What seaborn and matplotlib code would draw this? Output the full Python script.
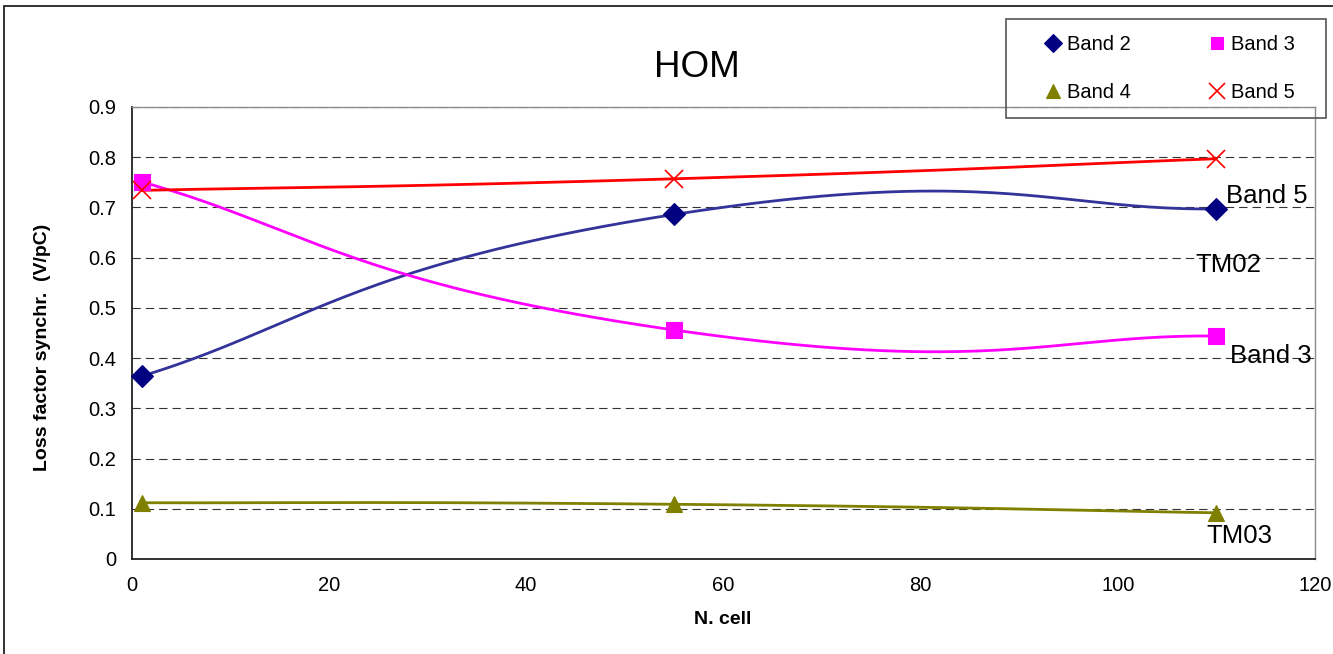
import numpy as np
import pandas as pd
import matplotlib
matplotlib.use("Agg")
import matplotlib.pyplot as plt
import seaborn as sns
from matplotlib.lines import Line2D
from matplotlib.patches import Rectangle
from matplotlib.ticker import MultipleLocator, FuncFormatter

# Loss factor per band versus number of cells
n_cell = [1, 55, 110]
band2 = [0.364, 0.686, 0.697]
band3 = [0.751, 0.456, 0.444]
band4 = [0.112, 0.109, 0.092]
band5 = [0.734, 0.757, 0.797]
series_names = ["Band 2", "Band 3", "Band 4", "Band 5"]
series_values = [band2, band3, band4, band5]

# mode annotations at the right end of the curves: (text, x, baseline y)
mode_labels = ["Band 5", "TM02", "Band 3", "TM03"]
mode_label_x = [111.0, 107.9, 111.4, 109.0]
mode_label_y = [0.709, 0.572, 0.390, 0.031]

line_colors = ["#33339a", "#ff00ff", "#808000", "#ff0000"]
marker_colors = ["#000080", "#ff00ff", "#808000", "#ff0000"]
markers = ["D", "s", "^", "x"]
marker_sizes = [11, 11, 12, 12.5]
legend_marker_sizes = [9.5, 9, 10.5, 11]


def smooth_curve(xs, ys, n=80, k=0.3):
    """Cubic Bezier smoothing through the points (spreadsheet-style smoothed line)."""
    pts = np.column_stack([xs, ys]).astype(float)
    out = []
    for i in range(len(pts) - 1):
        p0 = pts[i - 1] if i > 0 else pts[i]
        p1, p2 = pts[i], pts[i + 1]
        p3 = pts[i + 2] if i + 2 < len(pts) else pts[i + 1]
        c1 = p1 + (p2 - p0) * k
        c2 = p2 - (p3 - p1) * k
        t = np.linspace(0, 1, n)[:, None]
        seg = ((1 - t) ** 3) * p1 + 3 * ((1 - t) ** 2) * t * c1 \
            + 3 * (1 - t) * t ** 2 * c2 + t ** 3 * p2
        out.append(seg if i == 0 else seg[1:])
    return np.vstack(out)


sns.set_style("white")
plt.rcParams["font.family"] = ["Liberation Sans", "DejaVu Sans"]
plt.rcParams["text.color"] = "black"
plt.rcParams["axes.labelcolor"] = "black"
plt.rcParams["xtick.color"] = "black"
plt.rcParams["ytick.color"] = "black"

W, H = 1333, 654
fig = plt.figure(figsize=(W / 100, H / 100), dpi=100)
ax_left, ax_right, ax_top, ax_bottom = 131.7, 1315.0, 107.0, 559.0
ax = fig.add_axes([ax_left / W, 1 - ax_bottom / H,
                   (ax_right - ax_left) / W, (ax_bottom - ax_top) / H])

# smoothed curves
frames = []
for name, vals in zip(series_names, series_values):
    c = smooth_curve(n_cell, vals)
    frames.append(pd.DataFrame({"N. cell": c[:, 0], "loss": c[:, 1], "band": name}))
curves = pd.concat(frames, ignore_index=True)
sns.lineplot(data=curves, x="N. cell", y="loss", hue="band", hue_order=series_names,
             palette=dict(zip(series_names, line_colors)), sort=False,
             estimator=None, linewidth=2.0, legend=False, ax=ax, zorder=3)

# data points
for name, vals, mk, mc, ms in zip(series_names, series_values, markers,
                                  marker_colors, marker_sizes):
    if mk == "x":
        ax.plot(n_cell, vals, linestyle="none", marker=mk, ms=ms, mew=1.2,
                color=mc, zorder=5, clip_on=False)
    else:
        ax.plot(n_cell, vals, linestyle="none", marker=mk, ms=ms, mew=0.8,
                mfc=mc, mec=mc, zorder=4, clip_on=False)

ax.set_xlim(0, 120)
ax.set_ylim(0, 0.9)
ax.xaxis.set_major_locator(MultipleLocator(20))
ax.xaxis.set_minor_locator(MultipleLocator(4))
ax.yaxis.set_major_locator(MultipleLocator(0.1))
ax.yaxis.set_minor_locator(MultipleLocator(0.02))
ax.yaxis.set_major_formatter(FuncFormatter(lambda v, p: "0" if abs(v) < 1e-9 else f"{v:.1f}"))
ax.xaxis.set_major_formatter(FuncFormatter(lambda v, p: f"{v:.0f}"))

ax.tick_params(axis="both", which="both", direction="in", colors="#222222",
               labelcolor="black", width=1.0)
ax.tick_params(axis="both", which="major", length=5, labelsize=14.5)
ax.tick_params(axis="both", which="minor", length=4)
ax.tick_params(axis="y", which="major", pad=11)
ax.tick_params(axis="x", which="major", pad=12.5)

ax.set_axisbelow(True)
ax.yaxis.grid(True, which="major", color="#333333", linewidth=0.8,
              linestyle=(0, (7.5, 4.5)))
ax.xaxis.grid(False)

for side in ["left", "bottom"]:
    ax.spines[side].set_color("#222222")
    ax.spines[side].set_linewidth(1.3)
for side in ["top", "right"]:
    ax.spines[side].set_color("#8c8c8c")
    ax.spines[side].set_linewidth(1.0)

ax.set_xlabel("N. cell", fontsize=14, fontweight="bold", va="top")
ax.xaxis.set_label_coords((723 - ax_left) / (ax_right - ax_left),
                          (ax_bottom - 611) / (ax_bottom - ax_top))
ax.set_ylabel("Loss factor synchr.  (V/pC)", fontsize=14, fontweight="bold", va="center")
ax.yaxis.set_label_coords((43 - ax_left) / (ax_right - ax_left),
                          (ax_bottom - 347) / (ax_bottom - ax_top))

for txt, tx, ty in zip(mode_labels, mode_label_x, mode_label_y):
    ax.text(tx, ty, txt, fontsize=18.5, ha="left", va="baseline",
            color="black", clip_on=False, zorder=6)

fig.text(696.7 / W, 1 - 77 / H, "HOM", fontsize=26.5, ha="center", va="baseline",
         color="black")

# legend: markers only, two columns filled row by row
handles = [Line2D([], [], linestyle="none", marker=mk, ms=ms,
                  color=mc, mfc=mc, mec=mc, mew=(1.2 if mk == "x" else 0.8))
           for mk, mc, ms in zip(markers, marker_colors, legend_marker_sizes)]
order = [0, 2, 1, 3]
leg = fig.legend([handles[i] for i in order], [series_names[i] for i in order],
                 ncol=2, loc="center left",
                 bbox_to_anchor=((1053 - 9.7) / W, 1 - 68.5 / H),
                 frameon=False, fontsize=14.5, handlelength=1.0,
                 handletextpad=0.17, columnspacing=3.8, labelspacing=1.4,
                 borderpad=0, borderaxespad=0)
for t in leg.get_texts():
    t.set_color("black")
fig.add_artist(Rectangle((1006 / W, 1 - 118 / H), 320 / W, 99 / H,
                         transform=fig.transFigure, fill=False,
                         edgecolor="#555555", linewidth=1.2))

# chart outer frame (top and left edges visible)
fig.add_artist(Rectangle((4.3 / W, -0.05), 1.1, (H - 5.7) / H + 0.05,
                         transform=fig.transFigure, fill=False,
                         edgecolor="#222222", linewidth=1.3, clip_on=False))

fig.savefig("out.png", dpi=100)
